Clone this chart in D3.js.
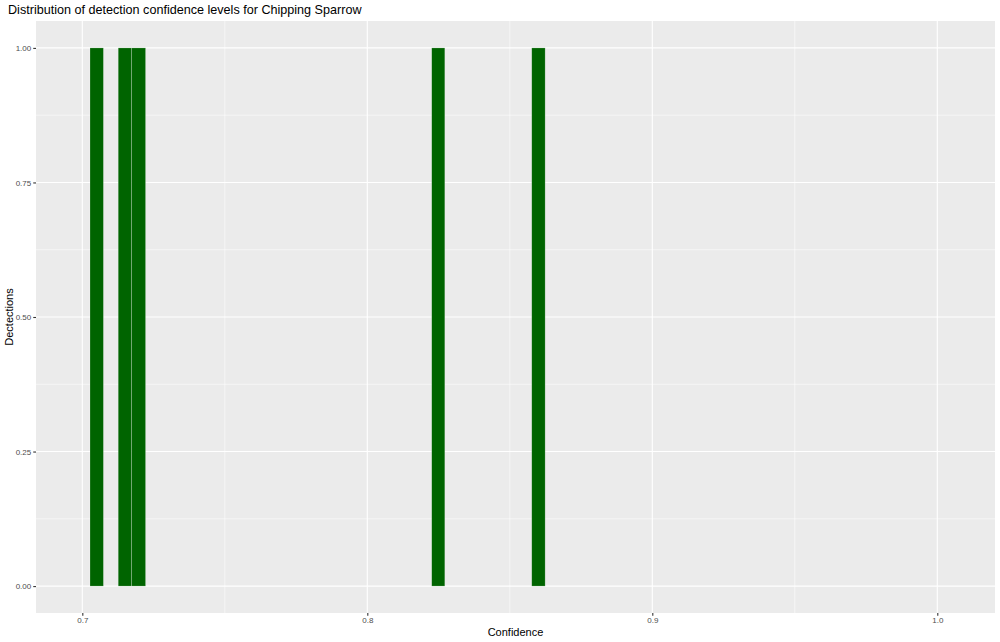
<!DOCTYPE html>
<html><head><meta charset="utf-8">
<script src="https://cdn.jsdelivr.net/npm/d3@7"></script>
<style>body{margin:0;background:#fff}svg{display:block}text{font-family:"Liberation Sans",Arial,sans-serif}</style>
</head><body><svg id="c" width="1000" height="642"></svg>
<script>
// Histogram bins: left edge, right edge, count
const binStart = [0.7027, 0.7126, 0.7173, 0.8226, 0.8577];
const binEnd   = [0.7074, 0.7173, 0.7222, 0.8272, 0.8624];
const counts   = [1, 1, 1, 1, 1];
const xTicks = [0.7, 0.8, 0.9, 1.0];
const xTickLabels = ["0.7", "0.8", "0.9", "1.0"];
const xMinor = [0.75, 0.85, 0.95];
const yTicks = [0, 0.25, 0.5, 0.75, 1];
const yTickLabels = ["0.00", "0.25", "0.50", "0.75", "1.00"];
const yMinor = [0.125, 0.375, 0.625, 0.875];

const svg = d3.select("#c");
const L = 36, R = 995, T = 21, B = 613;
const x = d3.scaleLinear().domain([0.68375, 1.02025]).range([L, R]);
const y = d3.scaleLinear().domain([-0.05, 1.05]).range([B, T]);

svg.append("rect").attr("x", L).attr("y", T).attr("width", R - L).attr("height", B - T).attr("fill", "#ebebeb");

const g = svg.append("g");
g.selectAll(".xm").data(xMinor).join("line").attr("x1", d => x(d)).attr("x2", d => x(d)).attr("y1", T).attr("y2", B).attr("stroke", "#fff").attr("stroke-width", 0.55);
g.selectAll(".ym").data(yMinor).join("line").attr("y1", d => y(d)).attr("y2", d => y(d)).attr("x1", L).attr("x2", R).attr("stroke", "#fff").attr("stroke-width", 0.55);
g.selectAll(".xM").data(xTicks).join("line").attr("x1", d => x(d)).attr("x2", d => x(d)).attr("y1", T).attr("y2", B).attr("stroke", "#fff").attr("stroke-width", 1.1);
g.selectAll(".yM").data(yTicks).join("line").attr("y1", d => y(d)).attr("y2", d => y(d)).attr("x1", L).attr("x2", R).attr("stroke", "#fff").attr("stroke-width", 1.1);

const bins = binStart.map((s, i) => ({x0: s, x1: binEnd[i], c: counts[i]}));
svg.selectAll(".bar").data(bins).join("rect")
  .attr("x", d => x(d.x0)).attr("width", d => x(d.x1) - x(d.x0))
  .attr("y", d => y(d.c)).attr("height", d => y(0) - y(d.c))
  .attr("fill", "#006400").attr("stroke", "rgba(255,255,255,0.35)").attr("stroke-width", 0.6);

// axes
const xAxis = d3.axisBottom(x).tickValues(xTicks).tickFormat((d, i) => xTickLabels[i]).tickSize(2.75).tickPadding(2);
const xa = svg.append("g").attr("transform", `translate(0,${B})`).call(xAxis);
const yAxis = d3.axisLeft(y).tickValues(yTicks).tickFormat((d, i) => yTickLabels[i]).tickSize(2.75).tickPadding(2);
const ya = svg.append("g").attr("transform", `translate(${L},0)`).call(yAxis);
[xa, ya].forEach(a => {
  a.select(".domain").remove();
  a.selectAll(".tick line").attr("stroke", "#333").attr("stroke-width", 1.1);
  a.selectAll(".tick text").attr("fill", "#4d4d4d").style("font-size", "8px").style("font-family", "Liberation Sans, Arial, sans-serif");
});

svg.append("text").attr("x", (L + R) / 2).attr("y", 636).attr("text-anchor", "middle").style("font-size", "11px").attr("fill", "#000").text("Confidence");
svg.append("text").attr("transform", `translate(13,${(T + B) / 2}) rotate(-90)`).attr("text-anchor", "middle").style("font-size", "11px").attr("fill", "#000").text("Dectections");
svg.append("text").attr("x", 8).attr("y", 14).style("font-size", "12.6px").attr("fill", "#000").text("Distribution of detection confidence levels for Chipping Sparrow");
</script></body></html>
